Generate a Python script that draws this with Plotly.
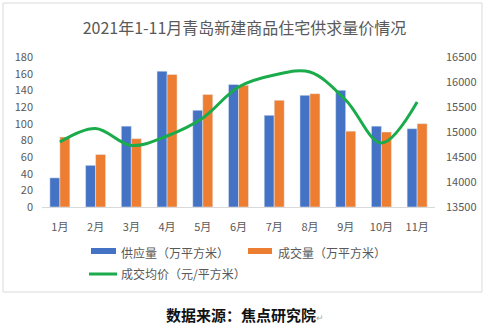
import plotly.graph_objects as go

months = ["1月", "2月", "3月", "4月", "5月", "6月", "7月", "8月", "9月", "10月", "11月"]
supply = [35, 50, 97, 163, 116, 147, 110, 134, 140, 97, 94]
deal = [84, 63, 82, 159, 135, 146, 128, 136, 91, 90, 100]
price = [14800, 15070, 14730, 14920, 15280, 15900, 16140, 16200, 15640, 14780, 15600]

names = ["供应量（万平方米）", "成交量（万平方米）", "成交均价（元/平方米）"]
colors = ["#4472C4", "#ED7D31", "#1AAB4A"]

FONT = "Microsoft YaHei, Noto Sans CJK SC, sans-serif"
GREY = "#595959"

# plot area in pixels
L, R, T, B = 42, 435, 57, 207
PW, PH = R - L, B - T


def px(x):
    return (x - L) / PW


def py(y):
    return (B - y) / PH


fig = go.Figure()
fig.add_trace(go.Bar(x=months, y=supply, name=names[0], marker_color=colors[0]))
fig.add_trace(go.Bar(x=months, y=deal, name=names[1], marker_color=colors[1]))
fig.add_trace(go.Scatter(x=months, y=price, name=names[2], mode="lines",
                         line=dict(color=colors[2], width=3, shape="spline", smoothing=1.0),
                         yaxis="y2"))

shapes = [
    dict(type="rect", xref="paper", yref="paper",
         x0=px(3), x1=px(482), y0=py(292), y1=py(3),
         line=dict(color="#D9D9D9", width=1)),
    dict(type="rect", xref="paper", yref="paper", x0=px(91), x1=px(116), y0=py(254), y1=py(248),
         fillcolor=colors[0], line=dict(width=0)),
    dict(type="rect", xref="paper", yref="paper", x0=px(248), x1=px(272), y0=py(254), y1=py(248),
         fillcolor=colors[1], line=dict(width=0)),
    dict(type="line", xref="paper", yref="paper", x0=px(89), x1=px(117), y0=py(274), y1=py(274),
         line=dict(color=colors[2], width=3)),
]

leg_font = dict(size=12, color=GREY, family=FONT)
annotations = [
    dict(text=names[0], xref="paper", yref="paper", x=px(119), y=py(252), xanchor="left",
         yanchor="middle", showarrow=False, font=leg_font),
    dict(text=names[1], xref="paper", yref="paper", x=px(276), y=py(252), xanchor="left",
         yanchor="middle", showarrow=False, font=leg_font),
    dict(text=names[2], xref="paper", yref="paper", x=px(119), y=py(273), xanchor="left",
         yanchor="middle", showarrow=False, font=leg_font),
    dict(text="<b>数据来源：焦点研究院</b><span style='color:#aaaaaa;font-size:9px'>↵</span>",
         xref="paper", yref="paper", x=px(245), y=py(314),
         xanchor="center", yanchor="middle", showarrow=False,
         font=dict(size=15, color="#111111", family=FONT)),
]

fig.update_layout(
    width=489, height=324,
    margin=dict(l=L, r=489 - R, t=T, b=324 - B),
    paper_bgcolor="white", plot_bgcolor="white",
    font=dict(family=FONT, color=GREY, size=11),
    showlegend=False,
    barmode="group", bargap=0.44, bargroupgap=0,
    title=dict(text="2021年1-11月青岛新建商品住宅供求量价情况", x=0.5, xanchor="center",
               y=1 - 28 / 324, yanchor="middle", font=dict(size=16, color=GREY, family=FONT)),
    xaxis=dict(showline=True, linecolor="#D9D9D9", linewidth=1, ticks="", showgrid=False,
               tickfont=dict(size=11, color=GREY), ticklabelstandoff=10),
    yaxis=dict(range=[0, 180], dtick=20, showgrid=False, zeroline=False, showline=False,
               tickfont=dict(size=11, color=GREY), ticklabelstandoff=8),
    yaxis2=dict(range=[13500, 16500], dtick=500, overlaying="y", side="right",
                showgrid=False, zeroline=False, showline=False, tickformat="d",
                tickfont=dict(size=11, color=GREY), ticklabelstandoff=10),
    shapes=shapes,
    annotations=annotations,
)

fig.write_html("out.html")
